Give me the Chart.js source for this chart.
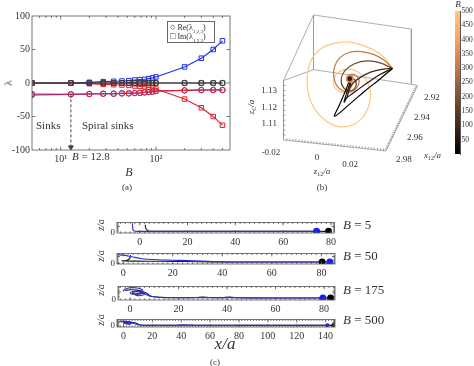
<!DOCTYPE html>
<html><head><meta charset="utf-8">
<script src="https://cdn.jsdelivr.net/npm/chart.js@4"></script>
<style>
html,body{margin:0;padding:0;width:474px;height:366px;overflow:hidden;background:#fff;position:relative;font-family:"Liberation Serif","DejaVu Serif",serif;}
canvas{position:absolute;}
.t{position:absolute;white-space:nowrap;color:#333;line-height:1;}
.lg{position:absolute;border:1px solid #666;background:#fff;font-size:8px;color:#333;}
</style></head><body>
<script>
// ================= DATA =================
// panel (a)
const bValues = [5, 12.8, 20, 28, 36, 44, 52, 60, 68, 76, 84, 92, 100, 200, 300, 400, 500];
const reRed   = [-16.5,-16.8,-16.5,-16,-16,-15.5,-15.5,-15,-14.8,-14,-13.5,-13,-12,-11,-10.5,-10.5,-10.5];
const reBlue  = [-17.8,-17,-16.5,-16,-16,-15.5,-15.5,-15,-14.8,-14,-13.5,-13,-12,-11,-10.5,-10.5,-10.5];
const imBlue  = [0,0,1,2,2.5,3,3.5,4.5,5,5.5,6.5,7.5,9,24,37,50,63];
const imRed   = [0,0,-1,-2,-2.5,-3,-3.5,-4.5,-5,-5.5,-6.5,-7.5,-9,-24,-37,-50,-63];
const reBlack = [0,0,0,0,0,0,0,0,0,0,0,0,0,0,0,0,0];
const imBlack = [0,0,0,0,0,0,0,0,0,0,0,0,0,0,0,0,0];
const yTicksA = [-100,-50,0,50,100];
const xMajorA = [10,100];
const xMinorA = [6,7,8,9,20,30,40,50,60,70,80,90,200,300,400,500];
const bifurcationB = 12.8;
const arrowFromTo = [-17,-96];

// panel (b): projected trajectories (view coordinates of the 3D panel)
const trajB = [500, 300, 175, 100, 50, 5];
const traj = [
 [[395,67],[388,57],[378,49],[365,43],[350,39],[335,40],[321,45],[311,55],[306,68],[305,84],[308,100],[315,113],[325,123],[338,129],[351,128],[362,121],[369,110],[372,97],[370,85],[364,75],[355,69],[345,68],[337,72],[333,79],[334,87],[340,92],[347,92],[352,87],[352,81],[349,78]],
 [[395,67],[386,58],[375,52],[362,49],[349,50],[339,56],[334,65],[333,75],[336,85],[343,91],[351,92],[357,88],[360,81],[357,75],[352,73],[348,75],[347,79],[350,80]],
 [[395,67],[382,61],[368,59],[355,62],[345,69],[341,78],[343,87],[350,91],[356,87],[356,80],[351,77]],
 [[395,67],[384,68],[372,71],[362,76],[354,82],[350,88],[348,95],[347,98],[349,90],[351,82],[350,78]],
 [[395,67],[381,74],[369,82],[358,90],[350,96],[347,98],[344,103],[347,92],[350,83],[350,78]],
 [[395,67],[381,79],[366,91],[351,104],[334,118],[339,106],[345,92],[350,79]]
];
const trajCenter = [350,78];
const box3d = [
 [[311.7,10],[415,25]],[[311.7,10],[311.7,68.3]],[[415,25],[415,83]],[[311.7,68.3],[421.7,85]],
 [[280,80],[311.7,68.3]],[[280,80],[311.7,10]],[[280,80],[280,143.3]],[[280,143.3],[388.3,155]],[[388.3,155],[421.7,85]]
];
const colorbarTicks = [50,100,150,200,250,300,350,400,450,500];
const colorbarMax = 500;

// panel (c)
const cPanels = [
 {label:'5', xr:[-9.5,81.5], yr:[-0.3,8], xt:[0,20,40,60,80], box:[117,216,337,233], dotR:3.5,
  blue:[[-3,7.3],[-3,5],[-2.9,3],[-2.7,1.8],[-2.2,1.2],[-1,1],[20,1],[50,1],[74,1]],
  black:[[2.3,6.2],[2.4,4.5],[2.7,2.8],[3.3,1.6],[4.5,1.1],[10,1],[79,1]],
  blueEnd:[74,1], blackEnd:[79,1]},
 {label:'50', xr:[-2.5,85.5], yr:[-0.5,7.3], xt:[0,20,40,60,80], box:[117,247,337,264], dotR:3.5,
  blue:[[-2.4,6.3],[0,6],[2,5.4],[4,4.6],[7,3.6],[10,3],[14,2.6],[20,2.3],[26,2],[32,1.6],[38,1.2],[45,1],[83.4,1]],
  black:[[3,6],[2.7,3.8],[1.8,2.4],[0.5,1.8],[-0.5,1.9],[0.5,1.7],[5,1.6],[15,1.5],[25,1.3],[35,1.1],[45,1],[80.3,1]],
  blueEnd:[83.4,1], blackEnd:[80.3,1]},
 {label:'175', xr:[-5,84.5], yr:[-0.3,8.7], xt:[0,20,40,60,80], box:[118,280,337,300], dotR:3.5,
  blue:[[-3,5.5],[-2,7],[0,7.8],[3,7.6],[5,6.5],[5,5],[3,3.8],[1,3.6],[0,4.3],[1,5.3],[3,5.6],[5,5],[6,3.8],[5,2.8],[3,2.6],[2,3.3],[3,4.2],[5.5,4],[7,3],[9,2],[12,1.5],[20,1.2],[30,1.3],[40,1.2],[60,1],[79.5,1]],
  black:[[-2,6],[0,6.5],[3,6.3],[5,5.3],[5,4],[3,3.5],[1,4],[1.5,5],[3.5,5.4],[6,4.8],[7.5,3.5],[8,2.5],[10,1.8],[14,1.3],[20,1.2],[27,1.4],[30,1.7],[33,1.4],[38,1.3],[41,1.6],[45,1.2],[60,1],[82.7,1]],
  blueEnd:[79.5,1], blackEnd:[82.7,1]},
 {label:'500', xr:[-4.5,146.5], yr:[-1.5,10], xt:[0,20,40,60,80,100,120,140], box:[117,313,337,327], dotR:2,
  blue:[[-3,7],[0,7.5],[3,6.5],[4,5],[2,4],[0,4.5],[1,6],[4,6.3],[6,5],[5,3.5],[3,3.5],[3,5],[6,5],[8,3],[11,1.5],[15,1],[25,1],[35,1.2],[42,1.8],[48,1.3],[55,1],[65,1.2],[75,1],[90,1.2],[100,1],[120,1.1],[141.4,1]],
  black:[[-2,6],[1,6.8],[4,6.2],[6,4.8],[5,3.5],[3,3],[1,4],[2,5.5],[5,5.8],[8,5],[10,3],[12,1.5],[16,1],[30,1],[50,1.1],[80,1],[110,1],[145.3,1]],
  blueEnd:[141.4,1], blackEnd:[145.3,1]}
];
const cYTicks = [0,5];

// ================= HELPERS =================
const FONT = '"Liberation Serif","DejaVu Serif",serif';
Chart.defaults.font.family = FONT;
Chart.defaults.color = '#333';
const colBlue='rgb(35,45,235)', colRed='rgb(225,35,45)', colBlack='rgb(60,60,60)';
const cBlue='rgb(45,45,215)', cBlack='rgb(25,25,25)';

function copper(t){t=Math.max(0,Math.min(1,t));return `rgb(${Math.round(Math.min(1,1.25*t)*255)},${Math.round(0.7812*t*255)},${Math.round(0.4975*t*255)})`;}

function mkCanvas(l,t,w,h){const c=document.createElement('canvas');c.width=w;c.height=h;c.style.left=l+'px';c.style.top=t+'px';c.style.width=w+'px';c.style.height=h+'px';document.body.appendChild(c);return c;}
function txt(html,x,y,o={}){const d=document.createElement('div');d.className='t';d.innerHTML=html;d.style.left=x+'px';d.style.top=y+'px';d.style.fontSize=(o.size||10)+'px';if(o.italic)d.style.fontStyle='italic';
 const ax=o.align==='l'?'0':o.align==='r'?'-100%':'-50%';d.style.transform=`translate(${ax},-50%)`;if(o.rot)d.style.transform=`translate(-50%,-50%) rotate(${o.rot}deg)`;document.body.appendChild(d);return d;}

const frame={id:'frame',afterDatasetsDraw(chart,args,o){
 if(!o||o.off)return;const {ctx,chartArea:a,scales}=chart;ctx.save();ctx.strokeStyle=o.color||'#555';ctx.lineWidth=o.width||0.8;
 ctx.strokeRect(a.left,a.top,a.right-a.left,a.bottom-a.top);ctx.beginPath();
 const X=(vals,len)=>(vals||[]).forEach(v=>{const p=scales.x.getPixelForValue(v);if(p<a.left+0.5||p>a.right-0.5)return;ctx.moveTo(p,a.bottom);ctx.lineTo(p,a.bottom-len);ctx.moveTo(p,a.top);ctx.lineTo(p,a.top+len);});
 const Y=(vals,len)=>(vals||[]).forEach(v=>{const p=scales.y.getPixelForValue(v);if(p<a.top+0.5||p>a.bottom-0.5)return;ctx.moveTo(a.left,p);ctx.lineTo(a.left+len,p);ctx.moveTo(a.right,p);ctx.lineTo(a.right-len,p);});
 X(o.xMajor,o.majLen||3.5);X(o.xMinor,o.minLen||2);Y(o.yMajor,o.majLen||3.5);Y(o.yMinor,o.minLen||2);ctx.stroke();ctx.restore();}};
Chart.register(frame);

// ================= PANEL (a) =================
(function(){
 const cv=mkCanvas(0,0,240,182);
 const pts=v=>bValues.map((b,i)=>({x:b,y:v[i]}));
 const ser=(v,col,style,order)=>({data:pts(v),showLine:true,borderColor:col,borderWidth:1.1,pointStyle:style,pointRadius:style==='circle'?2.7:3.2,pointBorderColor:col,pointBackgroundColor:'rgba(255,255,255,0)',pointBorderWidth:1,order});
 new Chart(cv,{type:'scatter',data:{datasets:[
  ser(reBlack,colBlack,'circle',1),ser(imBlack,colBlack,'rect',2),ser(reRed,colRed,'circle',3),ser(imRed,colRed,'rect',4),ser(imBlue,colBlue,'rect',5),ser(reBlue,colBlue,'circle',6),
  {data:[{x:bifurcationB,y:arrowFromTo[0]},{x:bifurcationB,y:arrowFromTo[1]}],showLine:true,borderColor:'#444',borderWidth:1,borderDash:[3,2],pointStyle:'triangle',rotation:180,pointRadius:c=>c.dataIndex===1?2.8:0,pointBackgroundColor:'#444',pointBorderColor:'#444',order:0}
 ]},options:{responsive:false,animation:false,events:[],devicePixelRatio:1,layout:{padding:{left:0,top:16,right:10,bottom:0}},
  plugins:{legend:{display:false},tooltip:{enabled:false},frame:{xMajor:xMajorA,xMinor:xMinorA,yMajor:yTicksA,majLen:3.5,minLen:2,color:'#555'}},
  scales:{x:{type:'logarithmic',min:5,max:600,afterBuildTicks:s=>{s.ticks=xMajorA.map(v=>({value:v}));},ticks:{autoSkip:false,maxRotation:0,padding:3,font:{size:10},color:'#333',callback:v=>v===10?'10¹':v===100?'10²':''},grid:{drawOnChartArea:false,drawTicks:false},border:{display:false},afterFit:s=>{s.height=32;}},
   y:{min:-100,max:100,afterBuildTicks:s=>{s.ticks=yTicksA.map(v=>({value:v}));},ticks:{padding:2,font:{size:10},color:'#333'},grid:{drawOnChartArea:false,drawTicks:false},border:{display:false},afterFit:s=>{s.width=32;}}}}});
 txt('λ',8,83,{size:11,rot:-90});
 txt('<i>B</i>',129,172,{size:12});
 txt('Sinks',36,125,{size:11,align:'l'});
 txt('Spiral sinks',82,125,{size:11,align:'l'});
 txt('<i>B</i> = 12.8',72,156,{size:11,align:'l'});
 const lg=document.createElement('div');lg.className='lg';lg.style.left='167px';lg.style.top='21px';lg.style.width='46px';lg.style.height='20px';
 lg.innerHTML='<div style="position:absolute;left:2px;top:1px;line-height:9px;white-space:nowrap"><b style="font-size:9px">○</b> Re(λ<sub style="font-size:5px">1,2,3</sub>)</div><div style="position:absolute;left:2px;top:10px;line-height:9px;white-space:nowrap"><b style="font-size:9px">□</b> Im(λ<sub style="font-size:5px">1,2,3</sub>)</div>';
 document.body.appendChild(lg);
 txt('(a)',127,187,{size:9});
})();

// ================= PANEL (b) =================
(function(){
 const cv=mkCanvas(240,0,212,180);
 const P=a=>a.map(p=>({x:p[0],y:p[1]}));
 const segs=[];box3d.forEach(s=>{segs.push({x:s[0][0],y:s[0][1]},{x:s[1][0],y:s[1][1]},{x:s[1][0],y:null});});
 const tk=[];const along=(p0,p1,n,d,len)=>{for(let i=1;i<n;i++){const f=i/n;const x=p0[0]+(p1[0]-p0[0])*f,y=p0[1]+(p1[1]-p0[1])*f;tk.push({x,y},{x:x+d[0]*len,y:y+d[1]*len},{x,y:null});}};
 along([280,143.3],[388.3,155],34,[0.25,-1],2.2);
 along([388.3,155],[421.7,85],36,[-1,-0.1],2.2);
 along([280,80],[280,143.3],12,[1,0],2);
 const ds=[{data:segs,showLine:true,borderColor:'#999',borderWidth:0.8,pointRadius:0,spanGaps:false,order:20},
           {data:tk,showLine:true,borderColor:'#777',borderWidth:0.7,pointRadius:0,spanGaps:false,order:19}];
 traj.forEach((t,i)=>ds.push({data:P(t),showLine:true,borderColor:copper(trajB[i]/colorbarMax),borderWidth:1.2,pointRadius:0,tension:0.35,order:10-i}));
 ds.push({data:[{x:trajCenter[0],y:trajCenter[1]}],pointRadius:3.2,pointBorderWidth:1.6,pointBorderColor:copper(0.7),pointBackgroundColor:'#2a1a10',order:0});
 new Chart(cv,{type:'scatter',data:{datasets:ds},options:{responsive:false,animation:false,events:[],devicePixelRatio:1,layout:{padding:0},
  plugins:{legend:{display:false},tooltip:{enabled:false},frame:{off:true}},
  scales:{x:{type:'linear',min:240,max:452,display:false},y:{type:'linear',min:0,max:180,reverse:true,display:false}}}});
 txt('1.13',277,90,{size:9,align:'r'});txt('1.12',277,106.7,{size:9,align:'r'});txt('1.11',277,123.3,{size:9,align:'r'});
 txt('<i>z<sub style="font-size:6px">C</sub>/a</i>',252,107,{size:9,rot:-90});
 txt('-0.02',271,152,{size:9});txt('0',317,157,{size:9});txt('0.02',350,163.5,{size:9});
 txt('<i>z</i><sub style="font-size:6px">12</sub><i>/a</i>',322,172,{size:9});
 txt('2.92',424,96.7,{size:9,align:'l'});txt('2.94',414,117.3,{size:9,align:'l'});txt('2.96',407,137.3,{size:9,align:'l'});txt('2.98',396,159.3,{size:9,align:'l'});
 txt('<i>x</i><sub style="font-size:6px">12</sub><i>/a</i>',424,155.5,{size:9,align:'l'});
 txt('(b)',322,187,{size:9});
})();

// colorbar
(function(){
 const cv=mkCanvas(452,0,22,160);
 new Chart(cv,{type:'bar',data:{labels:['B'],datasets:[{data:[colorbarMax],barPercentage:1,categoryPercentage:1,borderWidth:0,
  backgroundColor:c=>{const ch=c.chart,a=ch.chartArea;if(!a)return '#000';const g=ch.ctx.createLinearGradient(0,a.bottom,0,a.top);for(let i=0;i<=20;i++)g.addColorStop(i/20,copper(i/20));return g;}}]},
  options:{responsive:false,animation:false,events:[],devicePixelRatio:1,layout:{padding:{left:3,top:11,bottom:4,right:0}},
  plugins:{legend:{display:false},tooltip:{enabled:false},frame:{off:true}},
  scales:{x:{display:false},y:{position:'right',min:0,max:colorbarMax,afterBuildTicks:s=>{s.ticks=colorbarTicks.map(v=>({value:v}));},ticks:{font:{size:7.5},color:'#333',padding:1.5},grid:{drawOnChartArea:false,drawTicks:false},border:{display:true,color:'#555'},afterFit:s=>{s.width=14;}}}}});
 txt('<i>B</i>',458,4,{size:9});
})();

// ================= PANEL (c) =================
cPanels.forEach(p=>{
 const yW=24,xH=14,padT=1,padR=2;const [l,t,r,b]=p.box;
 const left=l-yW,top=t-padT,w=r-left+padR,h=b-top+xH;
 const cv=mkCanvas(left,top,w,h);
 const P=a=>a.map(q=>({x:q[0],y:q[1]}));
 const minor=[];for(let v=Math.ceil(p.xr[0]/2)*2;v<=p.xr[1];v+=2)minor.push(v);
 const yminor=[];for(let v=Math.ceil(p.yr[0]);v<=p.yr[1];v+=1)yminor.push(v);
 new Chart(cv,{type:'scatter',data:{datasets:[
  {data:[{x:p.blueEnd[0],y:p.blueEnd[1]}],pointRadius:p.dotR,pointBackgroundColor:'rgb(30,30,235)',pointBorderWidth:0,order:0},
  {data:[{x:p.blackEnd[0],y:p.blackEnd[1]}],pointRadius:p.dotR,pointBackgroundColor:'#000',pointBorderWidth:0,order:1},
  {data:P(p.blue),showLine:true,borderColor:cBlue,borderWidth:1.1,pointRadius:0,tension:0.4,order:2},
  {data:P(p.black),showLine:true,borderColor:cBlack,borderWidth:1.1,pointRadius:0,tension:0.4,order:3}
 ]},options:{responsive:false,animation:false,events:[],devicePixelRatio:1,layout:{padding:{left:0,top:padT,right:padR,bottom:0}},
  plugins:{legend:{display:false},tooltip:{enabled:false},frame:{xMajor:p.xt,xMinor:minor,yMajor:cYTicks,yMinor:yminor,majLen:3,minLen:1.6,color:'#555'}},
  scales:{x:{type:'linear',min:p.xr[0],max:p.xr[1],afterBuildTicks:s=>{s.ticks=p.xt.map(v=>({value:v}));},ticks:{autoSkip:false,maxRotation:0,padding:3,font:{size:10},color:'#333'},grid:{drawOnChartArea:false,drawTicks:false},border:{display:false},afterFit:s=>{s.height=xH;}},
   y:{type:'linear',min:p.yr[0],max:p.yr[1],afterBuildTicks:s=>{s.ticks=cYTicks.map(v=>({value:v}));},ticks:{padding:2,font:{size:9},color:'#333'},grid:{drawOnChartArea:false,drawTicks:false},border:{display:false},afterFit:s=>{s.width=yW;}}}}});
 txt('<i>z/a</i>',101,(t+b)/2,{size:10,rot:-90});
 txt('<i>B</i> = '+p.label,343,(t+b)/2-1,{size:13,align:'l'});
});
txt('<i>x/a</i>',225,343,{size:17});
txt('(c)',215,362,{size:9});
</script>
</body></html>
